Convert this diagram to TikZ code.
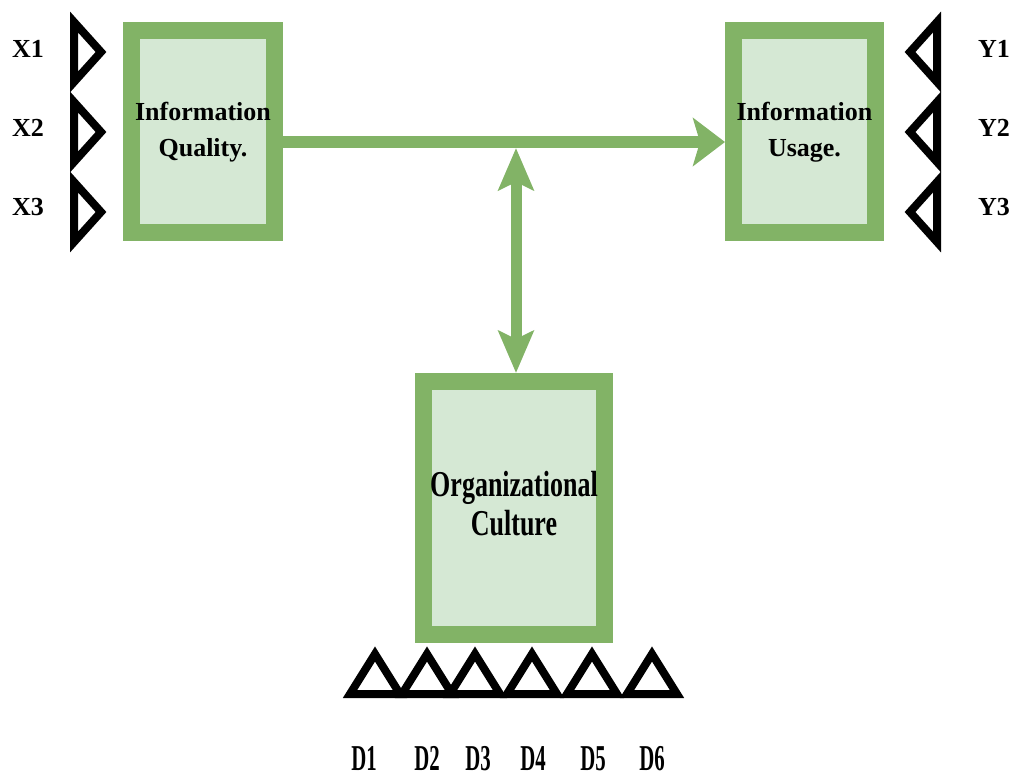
\documentclass[tikz,border=0pt]{standalone}
\usepackage{fontspec}
\setmainfont{Liberation Serif}
\usetikzlibrary{arrows.meta}
\definecolor{gborder}{HTML}{82B366}
\definecolor{gfill}{HTML}{D5E8D4}
\newcommand{\twolines}[3]{\raisebox{#1}{\begin{tabular}{@{}c@{}}#2\\#3\end{tabular}}}
\begin{document}
\begin{tikzpicture}[x=1pt,y=-1pt,
  box/.style={draw=gborder,fill=gfill,line width=17pt,inner sep=0pt,align=center,
    font=\fontsize{26}{36}\selectfont\bfseries},
  ind/.style={draw=black,line width=8pt,line join=miter},
  lab/.style={font=\fontsize{26}{30}\selectfont\bfseries,inner sep=0pt,anchor=base},
  conn/.style={draw=gborder,line width=12pt}]
\useasboundingbox (0,0) rectangle (1016,780);

% boxes
\node[box,minimum width=143pt,minimum height=202pt] (iq) at (203,131.5)
  {\twolines{-3pt}{Information}{Quality.}};
\node[box,minimum width=142pt,minimum height=202pt] (iu) at (804.5,131.5)
  {\twolines{-3pt}{Information}{Usage.}};
\node[box,minimum width=181pt,minimum height=253pt] (oc) at (514,508)
  {\raisebox{-4pt}{\scalebox{1}[1.4]{\fontsize{26}{28}\selectfont\begin{tabular}{@{}c@{}}Organizational\\Culture\end{tabular}}}};

% connectors
\coordinate (J) at (516,142);
\draw[conn,-{Stealth[length=32pt,width=48pt,inset=7pt]}] (iq.east |- J) -- (iu.west |- J);
\draw[conn,line width=11pt,{Stealth[length=42pt,width=35pt,inset=8pt]}-{Stealth[length=42pt,width=35pt,inset=8pt]}]
  ([yshift=-6pt]J) -- (J |- oc.north);

% indicator triangles
\foreach \y in {52,132,212} {
  \draw[ind] (74,\y-30) -- (101,\y) -- (74,\y+30) -- cycle;
  \draw[ind] (937,\y-30) -- (910,\y) -- (937,\y+30) -- cycle;
}
\foreach \x in {375,427,475,532,592,652} {
  \draw[ind] (\x-25,694) -- (\x,654) -- (\x+25,694) -- cycle;
}

% labels
\node[lab] (x1) at (28,57) {X1};
\node[lab] (x2) at (28,136) {X2};
\node[lab] (x3) at (28,215) {X3};
\node[lab] (y1) at (994,57) {Y1};
\node[lab] (y2) at (994,136) {Y2};
\node[lab] (y3) at (994,215) {Y3};
\node[lab] (d1) at (364,770) {\scalebox{0.8}[1.4]{D1}};
\node[lab] (d2) at (427,770) {\scalebox{0.8}[1.4]{D2}};
\node[lab] (d3) at (478,770) {\scalebox{0.8}[1.4]{D3}};
\node[lab] (d4) at (533,770) {\scalebox{0.8}[1.4]{D4}};
\node[lab] (d5) at (593,770) {\scalebox{0.8}[1.4]{D5}};
\node[lab] (d6) at (652,770) {\scalebox{0.8}[1.4]{D6}};
\end{tikzpicture}
\end{document}
